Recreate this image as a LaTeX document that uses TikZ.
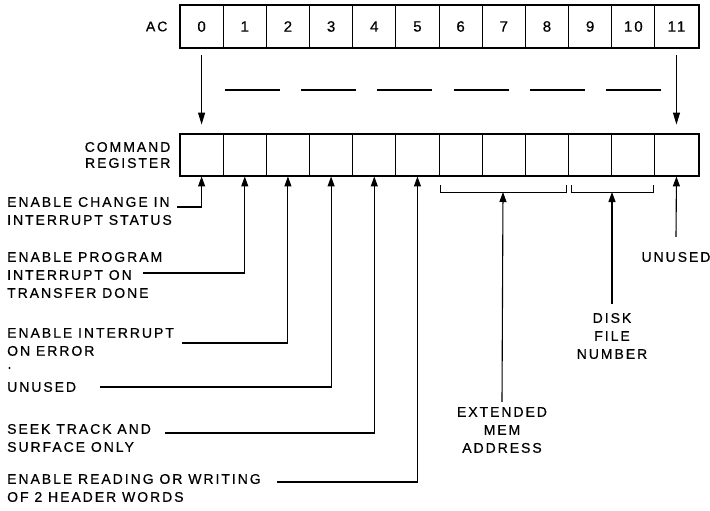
\documentclass[tikz,border=0pt]{standalone}
\usepackage{fontspec}
\setmainfont{Liberation Sans}[LetterSpace=14, FakeBold=0.6]
\usetikzlibrary{positioning, arrows.meta, calc}

\begin{document}
\begin{tikzpicture}[x=1pt, y=-1pt,
  cell/.style={draw, line width=0.9pt, minimum width=43.17pt,
    minimum height=42pt, inner sep=0pt, font=\fontsize{15}{16}\selectfont},
  frame/.style={draw, line width=2pt},
  note/.style={align=left, inner sep=0pt, font=\fontsize{14}{18}\selectfont},
  feed/.style={-{Triangle[length=10pt, width=7pt]}, line width=1.1pt},
  down/.style={-{Triangle[length=12pt, width=7pt]}, line width=1pt}
]
\useasboundingbox (0,0) rectangle (710,511);

% Registers (AC on top, command register below)
\foreach \i in {0,...,11} {
  \node[cell, minimum height=43pt] (ac\i) at ({201.6+43.17*\i}, 26.5) {\i};
  \node[cell] (cr\i) at ({201.6+43.17*\i}, 155) {};
}
\draw[frame] (ac0.north west) rectangle (ac11.south east);
\draw[frame] (cr0.north west) rectangle (cr11.south east);

\node[note, left=12pt of ac0] (aclbl) {AC};
\node[note, align=right, left=9pt of cr0,
  font=\fontsize{14}{16}\selectfont] (crlbl) {COMMAND\\REGISTER};

% Transfer AC -> command register
\draw[down] ([yshift=-7pt]ac0.south) -- ([yshift=9pt]cr0.north);
\draw[down] ([yshift=-7pt]ac11.south) -- ([yshift=9pt]cr11.north);
\draw[line width=1.2pt, dash pattern=on 55pt off 21.2pt] (225,90) -- (661,90);

% Bit descriptions (left)
\node[note, anchor=west] (bit0) at (7, 211) {ENABLE CHANGE IN\\INTERRUPT STATUS};
\node[note, anchor=west] (bit1) at (7, 275)
  {ENABLE PROGRAM\\INTERRUPT ON\\TRANSFER DONE};
\node[note, anchor=west] (bit2) at (7, 342) {ENABLE INTERRUPT\\ON ERROR};
\node[note, anchor=west] (bit3) at (7, 387) {UNUSED};
\fill (9.5,368) circle (1.1pt);
\node[note, anchor=west] (bit4) at (7, 438) {SEEK TRACK AND\\SURFACE ONLY};
\node[note, anchor=west] (bit5) at (7, 488)
  {ENABLE READING OR WRITING\\OF 2 HEADER WORDS};

\coordinate (s0) at (177, 207);
\coordinate (s1) at (143, 273);
\coordinate (s2) at (182, 343);
\coordinate (s3) at (100, 387);
\coordinate (s4) at (165, 433);
\coordinate (s5) at (277, 482);
\draw[feed] (s0) -| (cr0.south);
\draw[feed] (s1) -| (cr1.south);
\draw[feed] (s2) -| (cr2.south);
\draw[feed] (s3) -| (cr3.south);
\draw[feed] (s4) -| (cr4.south);
\draw[feed] (s5) -| (cr5.south);

% Field brackets (bits 6-8 and 9-10)
\draw[line width=1pt] (440,185) -- (440,192) -- (566,192) -- (566,185);
\draw[line width=1pt] (571,185) -- (571,192) -- (653,192) -- (653,185);
\coordinate (memb) at (503,192);
\coordinate (diskb) at (612,192);

\node[note, align=center] (mem) at (502, 430) {EXTENDED\\MEM\\ADDRESS};
\node[note, align=center] (disk) at (612, 336) {DISK\\FILE\\NUMBER};
\node[note] (spare) at (676, 257) {UNUSED};

\draw[feed] ([yshift=5pt]mem.north) -- (memb);
\draw[feed] ([yshift=9pt]disk.north) -- (diskb);
\draw[feed] ([yshift=15pt]spare.north) -- (cr11.south);

\end{tikzpicture}
\end{document}
